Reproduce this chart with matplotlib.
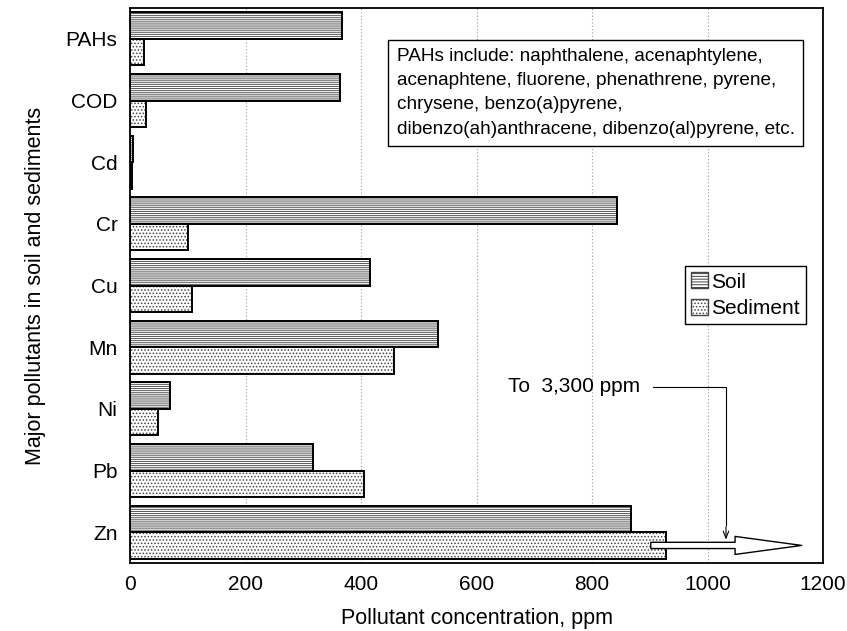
import matplotlib.pyplot as plt
import numpy as np
from matplotlib.patches import Patch

plt.rcParams['font.family'] = ['Liberation Sans', 'DejaVu Sans']
plt.rcParams['hatch.linewidth'] = 0.7

# pollutants, top to bottom as in the chart
pollutants = ["PAHs", "COD", "Cd", "Cr", "Cu", "Mn", "Ni", "Pb", "Zn"]
soil = [367, 363, 5, 843, 416, 534, 70, 317, 868]
sediment = [24, 28, 3, 100, 108, 457, 49, 406, 928]

box_text = ("PAHs include: naphthalene, acenaphtylene,\n"
            "acenaphtene, fluorene, phenathrene, pyrene,\n"
            "chrysene, benzo(a)pyrene,\n"
            "dibenzo(ah)anthracene, dibenzo(al)pyrene, etc.")

fig = plt.figure(figsize=(8.47, 6.31), dpi=100)
ax = fig.add_axes([130 / 847, 1 - 563 / 631, (823 - 130) / 847, (563 - 8) / 631])

n = len(pollutants)
ypos = np.arange(n)[::-1]
h = 0.43

# hatched fill first (grey lines / dots), then black outlines on top
ax.barh(ypos + h / 2, soil, height=h, color='white', edgecolor='#555555',
        hatch='--------', linewidth=0, zorder=2)
ax.barh(ypos - h / 2, sediment, height=h, color='white', edgecolor='#444444',
        hatch='.....', linewidth=0, zorder=2)
ax.barh(ypos + h / 2, soil, height=h, fill=False, edgecolor='black', linewidth=1.4, zorder=3)
ax.barh(ypos - h / 2, sediment, height=h, fill=False, edgecolor='black', linewidth=1.4, zorder=3)

ax.set_xlim(0, 1200)
ax.set_ylim(-0.5, n - 0.5)
ax.set_xticks(range(0, 1201, 200))
ax.set_yticks(ypos)
ax.set_yticklabels(pollutants)
ax.tick_params(length=0, labelsize=15, pad=9)
ax.xaxis.grid(True, linestyle=(0, (1, 2)), color='#999999', linewidth=0.8, zorder=0)
ax.set_axisbelow(True)
for s in ax.spines.values():
    s.set_linewidth(1.3)

ax.set_xlabel("Pollutant concentration, ppm", fontsize=15.5, labelpad=10)
ax.set_ylabel("Major pollutants in soil and sediments", fontsize=15.5, labelpad=14)

# legend with small square handles
handles = [Patch(facecolor='white', edgecolor='#444444', hatch='------', label='Soil'),
           Patch(facecolor='white', edgecolor='#444444', hatch='.....', label='Sediment')]
leg = ax.legend(handles=handles, loc='upper right', bbox_to_anchor=(0.975, 0.535),
                fontsize=15, handlelength=0.8, handleheight=0.8, handletextpad=0.15,
                borderpad=0.3, labelspacing=0.35, fancybox=False, framealpha=1,
                edgecolor='black', borderaxespad=0)
leg.get_frame().set_linewidth(1.0)

# note box on PAHs
ax.text(462, 7.85, box_text, fontsize=13.7, va='top', ha='left', linespacing=1.55,
        bbox=dict(boxstyle='square,pad=0.45', facecolor='white', edgecolor='black', linewidth=1.0),
        zorder=5)

# Zn sediment goes off the scale
zn_y = ypos[-1] - h / 2
ax.annotate("", xy=(1168, zn_y), xytext=(897, zn_y),
            arrowprops=dict(arrowstyle='simple,head_length=4.8,head_width=1.3,tail_width=0.45',
                            fc='white', ec='black', lw=1.0), zorder=6)
label_y = 2.36
ax.text(884, label_y, "To  3,300 ppm", fontsize=15, ha='right', va='center')
ax.plot([905, 1032, 1032], [label_y, label_y, zn_y + 0.33], color='black', lw=0.8, zorder=6)
ax.annotate("", xy=(1032, zn_y + 0.05), xytext=(1032, zn_y + 0.35),
            arrowprops=dict(arrowstyle='->,head_length=0.5,head_width=0.2', color='black', lw=0.8),
            zorder=6)

fig.savefig("out.png", dpi=100)
